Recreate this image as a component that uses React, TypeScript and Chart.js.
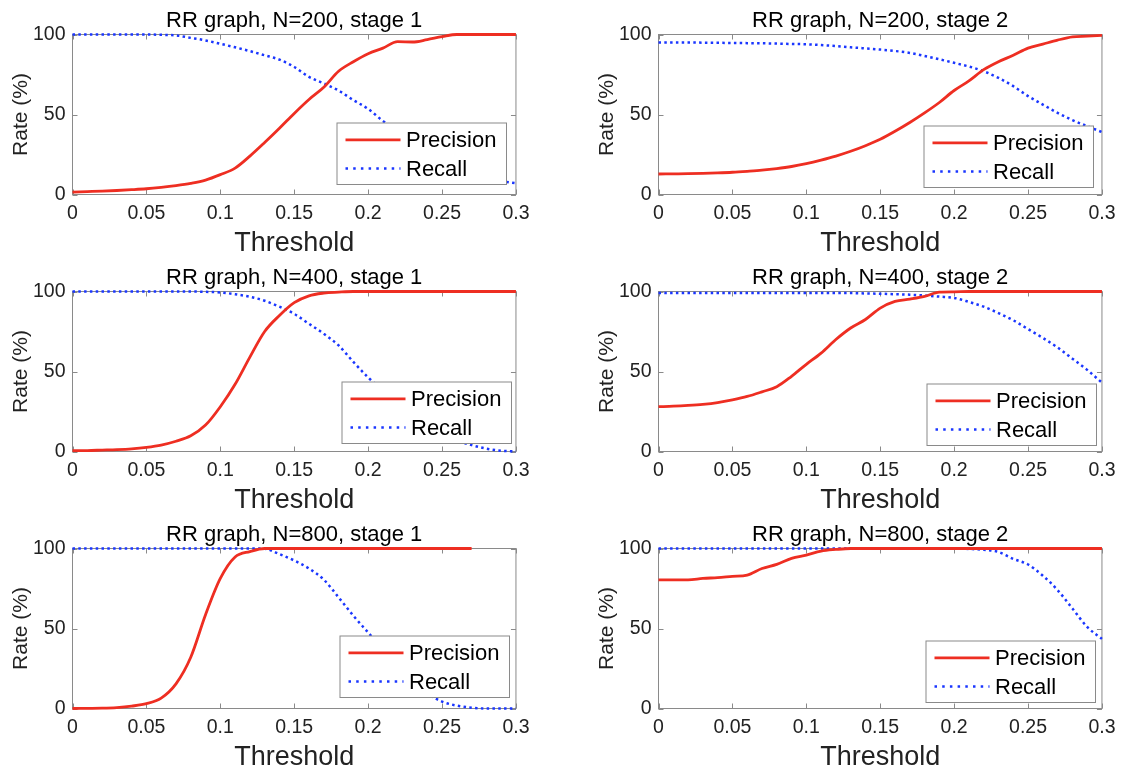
import React, { useEffect, useRef } from "react";
import { Chart, registerables } from "chart.js";

Chart.register(...registerables);

// ---------------- data ----------------
const thresholds = [
  0, 0.01, 0.02, 0.03, 0.04, 0.05, 0.06, 0.07, 0.08, 0.09, 0.1,
  0.11, 0.12, 0.13, 0.14, 0.15, 0.16, 0.17, 0.18, 0.19, 0.2,
  0.21, 0.22, 0.23, 0.24, 0.25, 0.26, 0.27, 0.28, 0.29, 0.3,
];
const xTickLabels = ["0", "0.05", "0.1", "0.15", "0.2", "0.25", "0.3"];
const yTickLabels = ["0", "50", "100"];
const seriesNames = ["Precision", "Recall"];
const xAxisTitle = "Threshold";
const yAxisTitle = "Rate (%)";
const panelTitles = [
  "RR graph, N=200, stage 1",
  "RR graph, N=200, stage 2",
  "RR graph, N=400, stage 1",
  "RR graph, N=400, stage 2",
  "RR graph, N=800, stage 1",
  "RR graph, N=800, stage 2",
];

const n200s1Precision = [1.5, 1.8, 2.1, 2.5, 3.0, 3.6, 4.5, 5.6, 7.0, 9.0, 12.4, 16.5, 24, 32.5, 41.4, 50.7, 59.4, 67, 77, 83, 88, 91.5, 95.5, 95.3, 96.8, 98.6, 100, 100, 100, 100, 100];
const n200s1Recall = [100, 100, 100, 100, 100, 100, 99.8, 99.4, 97.9, 96.3, 94.2, 92, 89.6, 87, 84.3, 79.7, 73.5, 69.4, 65, 59, 53.5, 46, 40, 34, 28, 22, 17, 13, 10, 8.3, 7];

const n200s2Precision = [12.8, 12.9, 13, 13.2, 13.5, 13.9, 14.5, 15.2, 16.2, 17.5, 19.3, 21.5, 24, 27, 30.5, 34.5, 39.5, 45, 51, 57.5, 65, 71, 78, 83, 87, 91.5, 94, 96.5, 98.5, 99, 99.5];
const n200s2Recall = [95, 95, 95, 94.9, 94.8, 94.7, 94.6, 94.5, 94.3, 94.1, 93.9, 93.4, 92.8, 92, 91.3, 90.6, 89.7, 88.5, 86.6, 84.5, 82.3, 80, 77, 72.9, 67.7, 61.5, 56.2, 51, 46.5, 42.7, 39];

const n400s1Precision = [0.5, 0.6, 0.9, 1.2, 1.7, 2.6, 4, 6.4, 9.8, 16.5, 28, 42, 59, 75, 85, 93, 97.3, 99, 99.6, 100, 100, 100, 100, 100, 100, 100, 100, 100, 100, 100, 100];
const n400s1Recall = [100, 100, 100, 100, 100, 100, 100, 100, 100, 99.8, 99.4, 98.3, 96.7, 94.2, 90.5, 86, 79.8, 73.6, 66.3, 56, 46.3, 38, 30, 23, 16.5, 11, 7, 4, 1.8, 0.5, 0];

const n400s2Precision = [28, 28.3, 28.8, 29.5, 30.6, 32.3, 34.4, 37.3, 40.5, 47, 54.5, 61.5, 70, 77.2, 82.5, 89.6, 93.8, 95.2, 96.9, 99.6, 99.8, 100, 100, 100, 100, 100, 100, 100, 100, 100, 100];
const n400s2Recall = [99, 99, 99, 99, 99, 99, 99, 99, 99, 99, 99, 99, 99, 99, 98.8, 98.6, 98.3, 98, 97.5, 96.8, 96, 93.5, 90.5, 86.5, 82, 76.5, 71, 65, 58, 51, 43];

const n800s1Precision = [0, 0.1, 0.2, 0.6, 1.5, 3, 6.5, 15.4, 32, 58.6, 81.3, 94.7, 98.1, 100, 100, 100, 100, 100, 100, 100, 100, 100, 100, 100, 100, 100, 100, 100, null, null, null];
const n800s1Recall = [100, 100, 100, 100, 100, 100, 100, 100, 100, 100, 100, 100, 100, 99.8, 96.5, 92.5, 87.5, 80.5, 69.5, 58, 47.5, 37, 27, 18, 9.5, 4.3, 1.8, 0.5, 0, 0, 0];

const n800s2Precision = [80.4, 80.4, 80.4, 81.3, 81.8, 82.6, 83.4, 87.5, 90.1, 93.8, 95.9, 98.4, 99.4, 100, 100, 100, 100, 100, 100, 100, 100, 100, 100, 100, 100, 100, 100, 100, 100, 100, 100];
const n800s2Recall = [100, 100, 100, 100, 100, 100, 100, 100, 100, 100, 100, 100, 100, 100, 100, 100, 100, 100, 100, 100, 100, 99.7, 99.2, 97.8, 93.5, 90, 83, 74, 62.5, 51, 43.5];

// ---------------- layout / style ----------------
const FONT = "'Liberation Sans', Arial, Helvetica, sans-serif";
const RED = "rgb(238, 46, 34)";
const BLUE = "rgb(26, 54, 255)";
const FRAME = "#8a8a8a";
const CANVAS_W = 537;
const CANVAS_H = 257;
const COL_LEFT = [0, 586];
const ROW_TOP = [0, 257, 514];

const panels = [
  { title: panelTitles[0], precision: n200s1Precision, recall: n200s1Recall, col: 0, row: 0, legendRight: 9.5, legendBottom: 10.5 },
  { title: panelTitles[1], precision: n200s2Precision, recall: n200s2Recall, col: 1, row: 0, legendRight: 9, legendBottom: 8 },
  { title: panelTitles[2], precision: n400s1Precision, recall: n400s1Recall, col: 0, row: 1, legendRight: 5, legendBottom: 8.5 },
  { title: panelTitles[3], precision: n400s2Precision, recall: n400s2Recall, col: 1, row: 1, legendRight: 6, legendBottom: 7 },
  { title: panelTitles[4], precision: n800s1Precision, recall: n800s1Recall, col: 0, row: 2, legendRight: 7, legendBottom: 12 },
  { title: panelTitles[5], precision: n800s2Precision, recall: n800s2Recall, col: 1, row: 2, legendRight: 7, legendBottom: 7 },
];

const framePlugin = {
  id: "matlabFrame",
  beforeDatasetsDraw(chart: any) {
    const { ctx, chartArea: a, scales } = chart;
    ctx.save();
    ctx.strokeStyle = FRAME;
    ctx.lineWidth = 1;
    ctx.strokeRect(a.left, a.top, a.right - a.left, a.bottom - a.top);
    const tl = 5;
    ctx.beginPath();
    for (const t of scales.x.ticks) {
      const px = Math.round(scales.x.getPixelForValue(t.value)) + 0.5;
      ctx.moveTo(px, a.bottom);
      ctx.lineTo(px, a.bottom - tl);
      ctx.moveTo(px, a.top);
      ctx.lineTo(px, a.top + tl);
    }
    for (const t of scales.y.ticks) {
      const py = Math.round(scales.y.getPixelForValue(t.value)) + 0.5;
      ctx.moveTo(a.left, py);
      ctx.lineTo(a.left + tl, py);
      ctx.moveTo(a.right, py);
      ctx.lineTo(a.right - tl, py);
    }
    ctx.stroke();
    ctx.restore();
  },
  afterDatasetsDraw(chart: any, _args: any, opts: any) {
    const { ctx, chartArea: a } = chart;
    const w = 169.5;
    const h = 61.5;
    const right = Math.round(a.right - opts.legendRight) + 0.5;
    const bottom = Math.round(a.bottom - opts.legendBottom) + 0.5;
    const left = right - w;
    const top = bottom - h;
    ctx.save();
    ctx.fillStyle = "#ffffff";
    ctx.fillRect(left, top, w, h);
    ctx.strokeStyle = FRAME;
    ctx.lineWidth = 1;
    ctx.strokeRect(left, top, w, h);
    const ds = chart.data.datasets;
    const rowsY = [top + 16.8, top + 45.6];
    ds.forEach((d: any, i: number) => {
      const y = rowsY[i];
      ctx.beginPath();
      ctx.strokeStyle = d.borderColor;
      ctx.lineWidth = d.borderWidth;
      ctx.setLineDash(i === 0 ? [] : [2.5, 5.2]);
      ctx.moveTo(left + 8.5, y);
      ctx.lineTo(left + 63.5, y);
      ctx.stroke();
      ctx.setLineDash([]);
      ctx.fillStyle = "#000";
      ctx.font = `22px ${FONT}`;
      ctx.textBaseline = "middle";
      ctx.textAlign = "left";
      ctx.fillText(d.label, left + 69, y + 1);
    });
    ctx.restore();
  },
};

function Panel({ cfg }: { cfg: (typeof panels)[number] }) {
  const ref = useRef<HTMLCanvasElement>(null);
  useEffect(() => {
    const canvas = ref.current!;
    const chart = new Chart(canvas, {
      type: "line",
      data: {
        datasets: [
          {
            label: seriesNames[0],
            data: thresholds.map((t, i) => ({ x: t, y: cfg.precision[i] })) as any,
            borderColor: RED,
            backgroundColor: RED,
            borderWidth: 2.8,
            pointRadius: 0,
            cubicInterpolationMode: "monotone",
            borderJoinStyle: "round",
            spanGaps: false,
            clip: 4,
          },
          {
            label: seriesNames[1],
            data: thresholds.map((t, i) => ({ x: t, y: cfg.recall[i] })) as any,
            borderColor: BLUE,
            backgroundColor: BLUE,
            borderWidth: 2.5,
            borderDash: [2.5, 3.3],
            pointRadius: 0,
            cubicInterpolationMode: "monotone",
            clip: 4,
          },
        ],
      },
      options: {
        responsive: false,
        animation: false,
        devicePixelRatio: 1,
        events: [],
        layout: { padding: { left: 0, top: 0, right: 19.5, bottom: 0 } },
        plugins: {
          legend: { display: false },
          tooltip: { enabled: false },
          title: {
            display: true,
            text: cfg.title,
            fullSize: false,
            color: "#000",
            font: { family: FONT, size: 22, weight: "normal", lineHeight: 1.2 },
            padding: { top: 7.6, bottom: 0.5 },
          },
          matlabFrame: { legendRight: cfg.legendRight, legendBottom: cfg.legendBottom },
        } as any,
        scales: {
          x: {
            type: "linear",
            min: 0,
            max: 0.3,
            grid: { display: false, drawTicks: false },
            border: { display: false },
            ticks: {
              stepSize: 0.05,
              autoSkip: false,
              maxRotation: 0,
              padding: 7.5,
              color: "#222",
              font: { family: FONT, size: 19.5 },
              callback: (v: any, i: number) => xTickLabels[i] ?? String(v),
            },
            title: {
              display: true,
              text: xAxisTitle,
              color: "#222",
              font: { family: FONT, size: 27, lineHeight: 1 },
              padding: { top: 0, bottom: 0 },
            },
            afterFit: (s: any) => {
              s.height = 62.5;
            },
          },
          y: {
            type: "linear",
            min: 0,
            max: 100,
            grid: { display: false, drawTicks: false },
            border: { display: false },
            ticks: {
              stepSize: 50,
              padding: 7,
              color: "#222",
              font: { family: FONT, size: 19.5 },
              callback: (v: any, i: number) => yTickLabels[i] ?? String(v),
            },
            title: {
              display: true,
              text: yAxisTitle,
              color: "#222",
              font: { family: FONT, size: 21, lineHeight: 1.2 },
              padding: { top: 8.5, bottom: 0 },
            },
            afterFit: (s: any) => {
              s.width = 72.5;
            },
          },
        },
      },
      plugins: [framePlugin],
    });
    return () => chart.destroy();
  }, [cfg]);
  return (
    <canvas
      ref={ref}
      width={CANVAS_W}
      height={CANVAS_H}
      style={{
        position: "absolute",
        left: COL_LEFT[cfg.col],
        top: ROW_TOP[cfg.row],
        width: CANVAS_W,
        height: CANVAS_H,
      }}
    />
  );
}

export default function App() {
  return (
    <div
      style={{
        position: "absolute",
        left: 0,
        top: 0,
        width: 1122,
        height: 771,
        background: "#fff",
        overflow: "hidden",
      }}
    >
      {panels.map((p, i) => (
        <Panel key={i} cfg={p} />
      ))}
    </div>
  );
}
